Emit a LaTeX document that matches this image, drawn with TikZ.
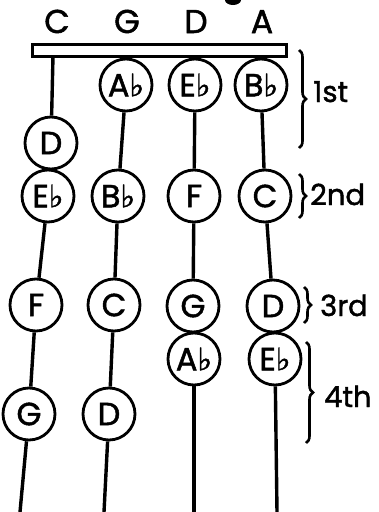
\documentclass[tikz,border=0pt]{standalone}
\usepackage{fontspec}
\setmainfont{Poppins}[FakeBold=1.5]
\newfontfamily\symfont{DejaVu Sans}[FakeBold=1.5]
\usetikzlibrary{decorations.pathreplacing}
\newcommand\flt{{\symfont\fontsize{31}{31}\selectfont ♭}}
\begin{document}
\begin{tikzpicture}[x=1pt,y=-1pt,
  note/.style={circle,draw,line width=2.8pt,minimum size=52pt,inner sep=0pt,
    font=\fontsize{32}{32}\selectfont},
  strng/.style={line width=3.4pt},
  lab/.style={font=\fontsize{33}{33}\selectfont,inner sep=0pt,anchor=base},
  poslab/.style={font=\fontsize{29}{29}\selectfont,inner sep=0pt,anchor=base west},
  brc/.style={decorate,decoration={brace,amplitude=7pt},line width=2.6pt}]
\useasboundingbox (0,0) rectangle (378,512);
% scan blob at top
\fill (233,0) ellipse (8 and 5);
% string names
\node[lab] (lC) at (57,33) {C};
\node[lab] (lG) at (127,33) {G};
\node[lab] (lD) at (196,33) {D};
\node[lab] (lA) at (262,33) {A};
% nut
\node[draw,line width=3pt,minimum width=254pt,minimum height=12pt,inner sep=0pt] (nut) at (159,50) {};
\coordinate (sC) at (53,56);
\coordinate (sG) at (127,56);
\coordinate (sD) at (195,56);
\coordinate (sA) at (262,56);
% C string
\node[note] (c1) at (51,143) {D};
\node[note] (c2) at (48,196) {E\flt};
\node[note] (c3) at (36,305) {F};
\node[note] (c4) at (29,414) {G};
\coordinate (cE) at (20,512);
% G string
\node[note] (g1) at (126,85) {A\flt};
\node[note] (g2) at (118,196) {B\flt};
\node[note] (g3) at (114,305) {C};
\node[note] (g4) at (109,414) {D};
\coordinate (gE) at (104,512);
% D string
\node[note] (d1) at (195,85) {E\flt};
\node[note] (d2) at (194,196) {F};
\node[note] (d3) at (193,306) {G};
\node[note] (d4) at (194,359) {A\flt};
\coordinate (dE) at (194,512);
% A string
\node[note] (a1) at (261,85) {B\flt};
\node[note] (a2) at (265,196) {C};
\node[note] (a3) at (273,306) {D};
\node[note] (a4) at (275,359) {E\flt};
\coordinate (aE) at (277,512);
% strings
\draw[strng] (sC) -- (c1); \draw[strng] (c2) -- (c3); \draw[strng] (c3) -- (c4); \draw[strng] (c4) -- (cE);
\draw[strng] (sG) -- (g1); \draw[strng] (g1) -- (g2); \draw[strng] (g2) -- (g3); \draw[strng] (g3) -- (g4); \draw[strng] (g4) -- (gE);
\draw[strng] (sD) -- (d1); \draw[strng] (d1) -- (d2); \draw[strng] (d2) -- (d3); \draw[strng] (d4) -- (dE);
\draw[strng] (sA) -- (a1); \draw[strng] (a1) -- (a2); \draw[strng] (a2) -- (a3); \draw[strng] (a4) -- (aE);
% positions
\coordinate (b1t) at (299,50); \coordinate (b1b) at (299,148);
\coordinate (b2t) at (299,174); \coordinate (b2b) at (299,218);
\coordinate (b3t) at (304,287); \coordinate (b3b) at (304,323);
\coordinate (b4t) at (306,342); \coordinate (b4b) at (306,443);
\draw[brc] (b1t) -- (b1b);
\draw[brc] (b2t) -- (b2b);
\draw[brc] (b3t) -- (b3b);
\draw[brc] (b4t) -- (b4b);
\node[poslab] (p1) at (313,102) {1st};
\node[poslab] (p2) at (310,205) {2nd};
\node[poslab] (p3) at (320,316) {3rd};
\node[poslab] (p4) at (324,407) {4th};
\end{tikzpicture}
\end{document}
